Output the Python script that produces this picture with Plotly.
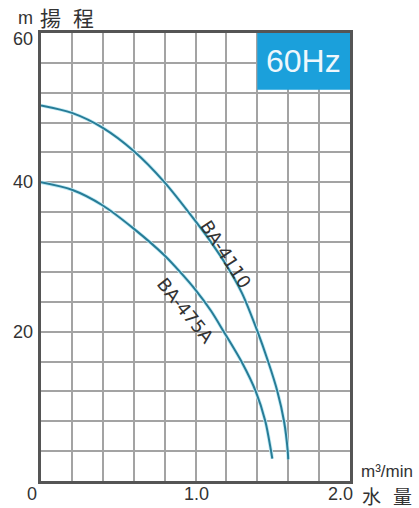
import plotly.graph_objects as go

# ---- data ----
q_4110 = [0, 0.2, 0.4, 0.6, 0.8, 1.0, 1.1, 1.2, 1.3, 1.4, 1.47, 1.53, 1.573, 1.597, 1.60]
h_4110 = [50.3, 49.3, 47.3, 44.2, 40.0, 34.8, 32.0, 28.9, 25.2, 20.1, 16.0, 12.0, 8.0, 4.0, 2.9]

q_475a = [0, 0.2, 0.4, 0.6, 0.8, 0.9, 1.0, 1.1, 1.18, 1.3, 1.39, 1.452, 1.489, 1.497]
h_475a = [40.0, 39.0, 36.9, 33.8, 30.2, 28.0, 25.6, 22.8, 20.1, 15.9, 12.0, 8.0, 4.0, 3.0]

x_grid = [round(i * 0.2, 1) for i in range(11)]
y_grid = [i * 4 for i in range(16)]
x_labels = [0, 1.0, 2.0]
x_label_text = ["0", "1.0", "2.0"]
y_labels = [20, 40, 60]
y_label_text = ["20", "40", "60"]

LINE = "#277c97"
HALO = "#c2ebf5"
FONT = "Liberation Sans, Arial, sans-serif"
CJK = "Noto Sans CJK TC, Noto Sans CJK JP, sans-serif"
TXT = "#333333"

fig = go.Figure()
for q, h in [(q_4110, h_4110), (q_475a, h_475a)]:
    fig.add_trace(go.Scatter(x=q, y=h, mode="lines",
                             line=dict(color=HALO, width=3.6, shape="spline", smoothing=0.8),
                             hoverinfo="skip", showlegend=False))
    fig.add_trace(go.Scatter(x=q, y=h, mode="lines",
                             line=dict(color=LINE, width=2, shape="spline", smoothing=0.8),
                             hoverinfo="skip", showlegend=False))

# 60Hz box
fig.add_shape(type="rect", x0=1.4, x1=2.0, y0=52.4, y1=60, xref="x", yref="y",
              fillcolor="#1ba0db", line=dict(width=0), layer="above")
fig.add_annotation(x=1.7, y=56.3, text="60Hz", showarrow=False,
                   font=dict(family=FONT, size=32, color="#eef7fc"))

# curve labels
fig.add_annotation(x=1.199, y=30.4, text="BA-4110", showarrow=False, textangle=57,
                   font=dict(family="DejaVu Sans", size=18, color=TXT))
fig.add_annotation(x=0.937, y=22.9, text="BA-475A", showarrow=False, textangle=51,
                   font=dict(family="DejaVu Sans", size=18, color=TXT))

# tick labels
x_shifts = [-9, 1, -10]
for v, t, s in zip(x_labels, x_label_text, x_shifts):
    fig.add_annotation(x=v, y=0, xref="x", yref="y", text=t, showarrow=False,
                       yanchor="middle", yshift=-13, xshift=s,
                       font=dict(family=FONT, size=18, color=TXT))
for v, t in zip(y_labels, y_label_text):
    fig.add_annotation(x=0, y=v, xref="x", yref="y", text=t, showarrow=False,
                       xanchor="right", yanchor="middle", xshift=-6,
                       yshift=(-6 if v == 60 else 0),
                       font=dict(family=FONT, size=18, color=TXT))

# axis titles
fig.add_annotation(x=0, y=1, xref="paper", yref="paper", text="m", showarrow=False,
                   xanchor="center", yanchor="middle", xshift=-15.5, yshift=15,
                   font=dict(family=FONT, size=18, color=TXT))
fig.add_annotation(x=0, y=1, xref="paper", yref="paper", text="揚", showarrow=False,
                   xanchor="center", yanchor="middle", xshift=9.5, yshift=16,
                   font=dict(family=CJK, size=21, color=TXT))
fig.add_annotation(x=0, y=1, xref="paper", yref="paper", text="程", showarrow=False,
                   xanchor="center", yanchor="middle", xshift=42, yshift=16,
                   font=dict(family=CJK, size=21, color=TXT))
fig.add_annotation(x=1, y=0, xref="paper", yref="paper", text="m³/min", showarrow=False,
                   xanchor="center", yanchor="middle", xshift=36.5, yshift=10,
                   font=dict(family=FONT, size=17, color=TXT))
fig.add_annotation(x=1, y=0, xref="paper", yref="paper", text="水", showarrow=False,
                   xanchor="center", yanchor="middle", xshift=21, yshift=-14,
                   font=dict(family=CJK, size=19, color=TXT))
fig.add_annotation(x=1, y=0, xref="paper", yref="paper", text="量", showarrow=False,
                   xanchor="center", yanchor="middle", xshift=52.5, yshift=-14,
                   font=dict(family=CJK, size=19, color=TXT))

fig.update_xaxes(range=[0, 2], tickvals=x_grid, showticklabels=False, ticks="",
                 showgrid=True, gridcolor="#a3a3a3", gridwidth=1.5, zeroline=False,
                 showline=True, linecolor="#555555", linewidth=2.5, mirror=True,
                 fixedrange=True)
fig.update_yaxes(range=[0, 60], tickvals=y_grid, showticklabels=False, ticks="",
                 showgrid=True, gridcolor="#a3a3a3", gridwidth=1.5, zeroline=False,
                 showline=True, linecolor="#555555", linewidth=2.5, mirror=True,
                 fixedrange=True)

fig.update_layout(width=419, height=508, margin=dict(l=41, r=69, t=33, b=27),
                  paper_bgcolor="white", plot_bgcolor="white", showlegend=False)

fig.write_html("out.html", config={"displayModeBar": False},
               post_script="document.body.style.margin='0px';")
